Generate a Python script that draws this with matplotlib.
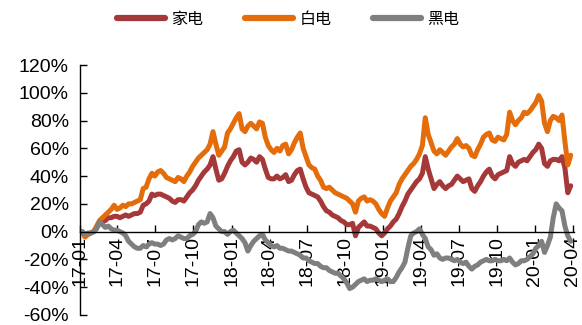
import numpy as np
import pandas as pd
import matplotlib
matplotlib.use("Agg")
import matplotlib.pyplot as plt
import matplotlib.dates as mdates
from matplotlib.ticker import MultipleLocator, FuncFormatter

plt.rcParams['font.family'] = ['Liberation Sans', 'DejaVu Sans']

# weekly cumulative return (%) from 2017-01-06
jiadian = [0, -3, -2, -1, 0, 3, 6, 7, 8, 10,
           10, 11, 11, 10, 11, 12, 11, 12, 13, 13,
           14, 19, 20, 22, 27, 26, 27, 27, 26, 25,
           24, 22, 21, 23, 23, 22, 25, 28, 30, 33,
           37, 40, 43, 45, 48, 54, 45, 37, 38, 42,
           47, 51, 54, 58, 59, 50, 48, 50, 53, 52,
           50, 54, 52, 45, 39, 38, 38, 40, 38, 39,
           41, 36, 37, 41, 44, 45, 38, 32, 28, 27,
           26, 25, 22, 18, 15, 14, 12, 11, 10, 8,
           7, 5, 5, 6, -3, 3, 5, 7, 4, 4,
           3, 2, -1, -3, -1, 2, 4, 7, 9, 13,
           18, 22, 27, 30, 33, 36, 38, 42, 54, 45,
           38, 31, 34, 36, 33, 31, 33, 34, 37, 40,
           38, 36, 37, 38, 31, 29, 33, 36, 40, 43,
           45, 40, 38, 41, 42, 43, 44, 54, 49, 47,
           50, 51, 52, 51, 54, 57, 59, 63, 60, 49,
           47, 51, 52, 52, 51, 54, 46, 28, 33]

baidian = [0, -4, -2, -1, 0, 4, 8, 10, 12, 14,
           16, 19, 16, 17, 19, 18, 20, 20, 21, 22,
           23, 31, 32, 38, 42, 40, 43, 44, 42, 39,
           38, 37, 36, 39, 38, 36, 40, 43, 47, 50,
           53, 55, 57, 59, 63, 72, 63, 55, 58, 61,
           71, 74, 78, 82, 85, 74, 72, 76, 78, 76,
           74, 79, 78, 68, 62, 59, 57, 60, 58, 62,
           63, 56, 59, 64, 68, 71, 60, 54, 48, 46,
           45, 40, 37, 32, 31, 32, 30, 28, 27, 26,
           25, 24, 22, 20, 14, 22, 24, 25, 22, 23,
           22, 20, 16, 13, 11, 17, 22, 25, 28, 34,
           38, 41, 44, 47, 49, 52, 56, 62, 82, 70,
           64, 58, 56, 59, 57, 55, 58, 61, 63, 67,
           63, 61, 62, 60, 55, 54, 59, 63, 68, 70,
           71, 66, 65, 68, 67, 66, 70, 86, 80, 77,
           80, 82, 86, 85, 87, 90, 93, 98, 94, 78,
           72, 80, 83, 82, 80, 84, 65, 48, 55]

heidian = [0, -2, -1, -1, 0, 2, 7, 5, 3, 4,
           2, 1, 1, 0, -1, -3, -7, -9, -11, -12,
           -12, -10, -11, -9, -8, -9, -9, -10, -9, -6,
           -5, -6, -5, -3, -4, -5, -5, -3, -2, 0,
           5, 7, 6, 7, 13, 10, 4, 2, 0, 0,
           -2, 0, 1, -1, -3, -5, -8, -14, -10, -7,
           -5, -3, -2, -6, -8, -10, -11, -10, -12, -12,
           -13, -14, -14, -15, -16, -17, -19, -19, -21, -22,
           -23, -23, -25, -26, -26, -28, -29, -30, -30, -32,
           -34, -37, -41, -40, -38, -36, -35, -34, -36, -35,
           -35, -34, -35, -36, -35, -34, -36, -36, -33, -29,
           -26, -22, -12, -3, -1, 0, 2, -2, -5, -11,
           -13, -17, -16, -19, -20, -19, -19, -20, -21, -20,
           -22, -23, -22, -25, -27, -25, -24, -22, -21, -20,
           -21, -21, -20, -21, -21, -20, -21, -19, -22, -24,
           -23, -21, -21, -20, -18, -16, -12, -10, -7, -15,
           -10, -4, 10, 20, 17, 15, 4, -3, -7]

names = ['家电', '白电', '黑电']
colors = ['#A5393A', '#E46C0A', '#7F7F7F']

dates = pd.date_range('2017-01-06', periods=len(jiadian), freq='7D')

fig = plt.figure(figsize=(5.82, 3.25), dpi=100)
ax = fig.add_axes([0.1375, 0.031, 0.8488, 0.769])

for vals, name, c in zip([jiadian, baidian, heidian], names, colors):
    ax.plot(dates, vals, color=c, lw=3.6, label=name, solid_capstyle='round',
            solid_joinstyle='round')

ax.set_ylim(-60, 120)
ax.set_xlim(pd.Timestamp('2017-01-01'), pd.Timestamp('2020-04-04'))
ax.yaxis.set_major_locator(MultipleLocator(20))
ax.yaxis.set_major_formatter(FuncFormatter(lambda v, p: '%d%%' % v))

ax.xaxis.set_major_locator(mdates.MonthLocator(bymonth=[1, 4, 7, 10]))
ax.xaxis.set_major_formatter(mdates.DateFormatter('%y-%m'))

ax.spines['top'].set_visible(False)
ax.spines['right'].set_visible(False)
ax.spines['bottom'].set_position(('data', 0))
ax.spines['left'].set_linewidth(1)
ax.spines['bottom'].set_linewidth(1)

ax.tick_params(axis='y', direction='in', length=5, width=1, labelsize=14, pad=8)
ax.tick_params(axis='x', direction='in', length=5, width=1, labelsize=14, pad=3)
for lab in ax.get_xticklabels():
    lab.set_rotation(90)
    lab.set_va('top')
    lab.set_ha('center')

leg = fig.legend(loc='center', bbox_to_anchor=(0.495, 0.94), ncol=3, frameon=False,
                 prop={'family': ['Noto Sans CJK SC', 'DejaVu Sans'], 'size': 11.5},
                 handlelength=3.0, handletextpad=0.4, columnspacing=2.6)
for line in leg.get_lines():
    line.set_linewidth(4.5)

fig.savefig('out.png', dpi=100)
